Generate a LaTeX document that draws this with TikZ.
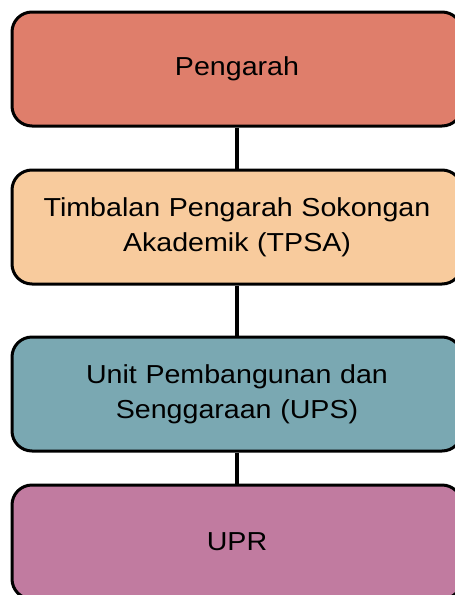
\documentclass[tikz,border=0pt]{standalone}
\usepackage{fontspec}
\setmainfont{Liberation Sans}
\newfontfamily\boxfont[FakeStretch=1.1]{Liberation Sans}
\definecolor{cA}{HTML}{DF7E6B}
\definecolor{cB}{HTML}{F8CB9D}
\definecolor{cC}{HTML}{7AA8B2}
\definecolor{cD}{HTML}{C17BA0}
\begin{document}
\begin{tikzpicture}[x=1pt,y=-1pt,
  orgbox/.style={draw=black, line width=3pt, rounded corners=20pt,
    minimum width=450pt, minimum height=114pt, text width=440pt,
    align=center, font=\boxfont\fontsize{26}{35}\selectfont, inner sep=0pt},
  link/.style={line width=4pt}]
\useasboundingbox (0,0) rectangle (455,595);
\begin{scope}
\clip (0,0) rectangle (455,595);
\node[orgbox, fill=cA] (p) at (237,69) {Pengarah};
\node[orgbox, fill=cB] (t) at (237,227) {Timbalan Pengarah Sokongan\\Akademik (TPSA)};
\node[orgbox, fill=cC] (u) at (237,394) {Unit Pembangunan dan\\Senggaraan (UPS)};
\node[orgbox, fill=cD] (r) at (237,542) {UPR};
\draw[link] (p.south) -- (t.north);
\draw[link] (t.south) -- (u.north);
\draw[link] (u.south) -- (r.north);
\end{scope}
\end{tikzpicture}
\end{document}
